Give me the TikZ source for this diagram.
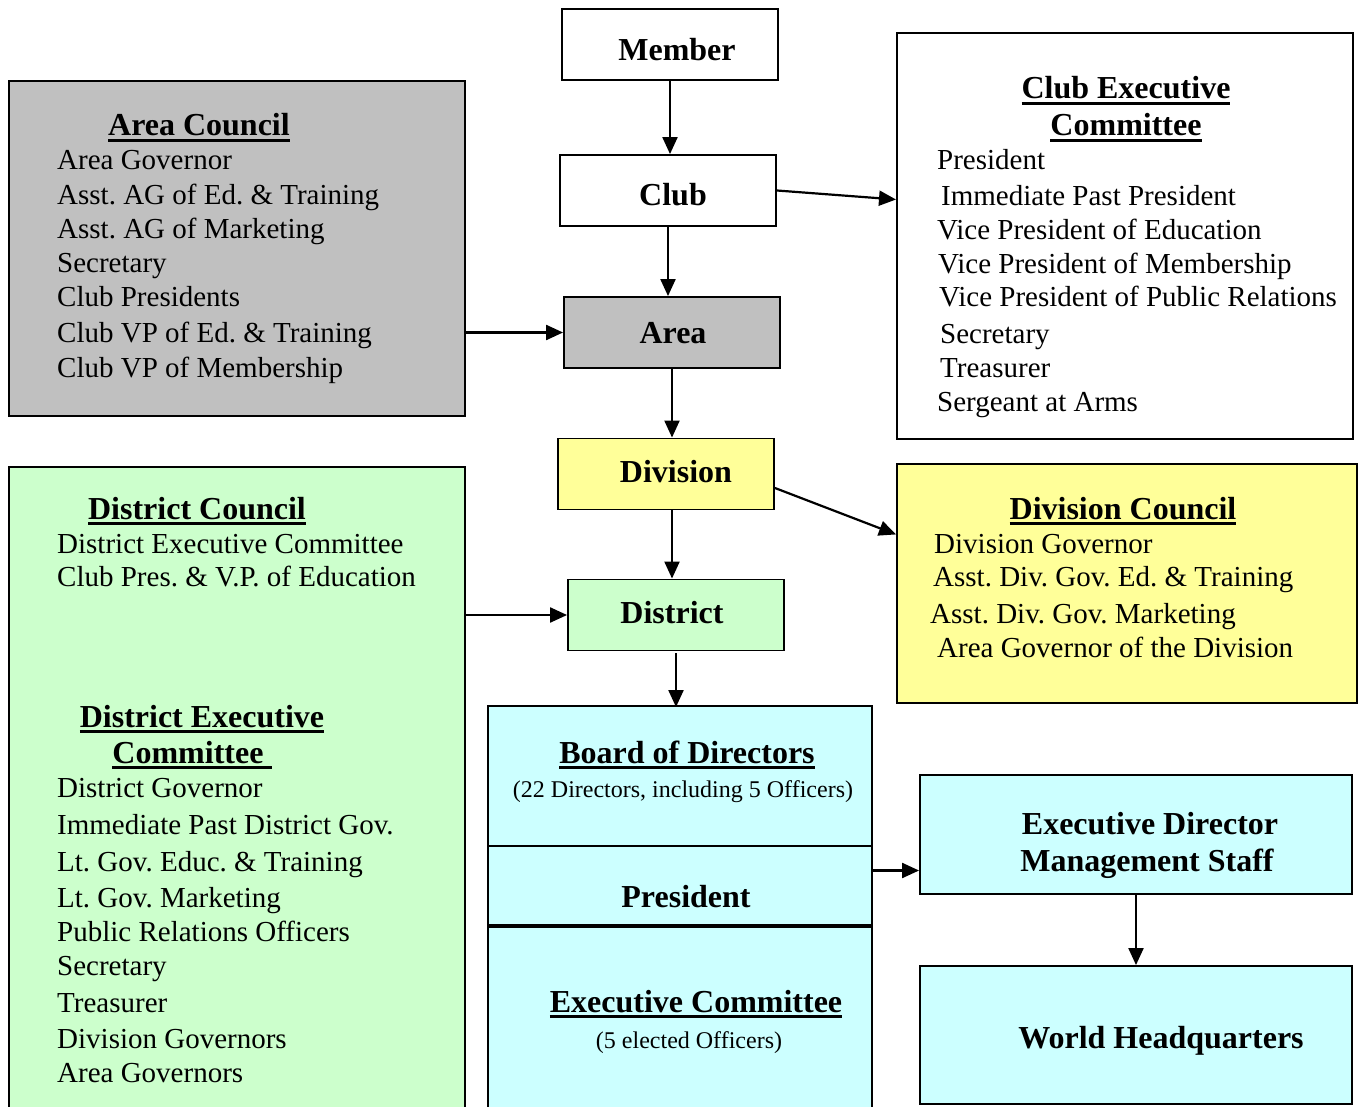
\documentclass[tikz,border=0pt]{standalone}
\usepackage{fontspec}
\setmainfont{Liberation Serif}
\frenchspacing
\usetikzlibrary{arrows.meta}
\newcommand\uln[1]{\setbox0\hbox{#1}\rlap{\vrule height -3pt depth 5.8pt width \wd0}\box0}
\definecolor{areagray}{HTML}{C0C0C0}
\definecolor{divyellow}{HTML}{FFFF99}
\definecolor{distgreen}{HTML}{CCFFCC}
\definecolor{boardcyan}{HTML}{CCFFFF}
\tikzset{
  lvl/.style={draw, line width=1.9pt, minimum width=216pt, minimum height=71pt, inner sep=0pt},
  panel/.style={draw, line width=1.9pt, anchor=north west, inner sep=0pt},
  head/.style={anchor=base, inner sep=0pt, font=\bfseries\fontsize{32}{37}\selectfont},
  note/.style={anchor=base, inner sep=0pt, font=\fontsize{24}{28}\selectfont},
  item/.style={anchor=base west, inner sep=0pt, font=\fontsize{29}{34}\selectfont},
  arr/.style={-{Triangle[length=17pt,width=15pt]}, line width=2.2pt},
}
\begin{document}
\begin{tikzpicture}[x=1pt,y=-1pt]
\clip (0,0) rectangle (1361,1107);

\node[panel, fill=areagray, minimum width=456pt, minimum height=335pt] (acl) at (8,80) {};
\node[panel, fill=white, minimum width=456pt, minimum height=406pt] (cex) at (896,32) {};
\node[panel, fill=distgreen, minimum width=456pt, minimum height=646pt] (dcl) at (8,466) {};
\node[panel, fill=divyellow, minimum width=460pt, minimum height=239pt] (dvc) at (896,463) {};

\node[lvl] (member) at (670,44.5) {};
\node[lvl] (club) at (668,190.5) {};
\node[lvl, fill=areagray] (area) at (672,332.5) {};
\node[lvl, fill=divyellow] (div) at (666,474) {};
\node[lvl, fill=distgreen] (dist) at (676,615) {};
\node[lvl, fill=boardcyan, minimum width=384pt, minimum height=140pt] (board) at (680,776) {};
\node[lvl, fill=boardcyan, minimum width=384pt, minimum height=79pt] (pres) at (680,885.5) {};
\node[lvl, fill=boardcyan, minimum width=384pt, minimum height=185pt] (excom) at (680,1019.5) {};
\node[lvl, fill=boardcyan, minimum width=432pt, minimum height=119pt] (exdir) at (1136,834.5) {};
\node[lvl, fill=boardcyan, minimum width=432pt, minimum height=138pt] (whq) at (1136,1035) {};

\node[head] (memberT) at (677,61) {Member};
\node[head] (clubT) at (673,206) {Club};
\node[head] (areaT) at (673,344) {Area};
\node[head] (divT) at (676,482) {Division};
\node[head] (distT) at (672,623) {District};
\node[head] (boardT) at (687,763) {\uln{Board of Directors}};
\node[note] (boardN) at (683,797) {(22 Directors, including 5 Officers)};
\node[head] (presT) at (686,907) {President};
\node[head] (excomT) at (696,1012) {\uln{Executive Committee}};
\node[note] (excomN) at (689,1048) {(5 elected Officers)};
\node[head] (exdirT1) at (1150,834) {Executive Director};
\node[head] (exdirT2) at (1147,871) {Management Staff};
\node[head] (whqT) at (1161,1048) {World Headquarters};

\node[head] (acT) at (199,136) {\uln{Area Council}};
\foreach \y/\t [count=\i] in {170/Area Governor, 205/Asst. AG of Ed. \& Training, 239/Asst. AG of Marketing,
    273/Secretary, 307/Club Presidents, 343/Club VP of Ed. \& Training, 378/Club VP of Membership}
  \node[item] (ac\i) at (57,\y) {\t};

\node[head] (cexT1) at (1126,99) {\uln{Club Executive}};
\node[head] (cexT2) at (1126,136) {\uln{Committee}};
\foreach \x/\y/\t [count=\i] in {937/170/President, 941/206/Immediate Past President,
    937/240/Vice President of Education, 938/274/Vice President of Membership,
    939/307/Vice President of Public Relations, 940/344/Secretary, 940/378/Treasurer,
    937/412/Sergeant at Arms}
  \node[item] (cex\i) at (\x,\y) {\t};

\node[head] (dvcT) at (1123,519) {\uln{Division Council}};
\foreach \x/\y/\t [count=\i] in {934/553/Division Governor, 933/586/Asst. Div. Gov. Ed. \& Training,
    930/623/Asst. Div. Gov. Marketing, 937/657/Area Governor of the Division}
  \node[item] (dvc\i) at (\x,\y) {\t};

\node[head] (dclT) at (197,519) {\uln{District Council}};
\node[item] (dcl1) at (57,553) {District Executive Committee};
\node[item] (dcl2) at (57,586) {Club Pres. \& V.P. of Education};

\node[head] (decT1) at (202,727) {\uln{District Executive}};
\node[head] (decT2) at (192,763) {\uln{Committee~}};
\foreach \y/\t [count=\i] in {797/District Governor, 834/Immediate Past District Gov.,
    871/Lt. Gov. Educ. \& Training, 907/Lt. Gov. Marketing, 941/Public Relations Officers,
    975/Secretary, 1012/Treasurer, 1048/Division Governors, 1082/Area Governors}
  \node[item] (dec\i) at (57,\y) {\t};

\draw[arr] (member.south) -- (member.south |- club.north);
\draw[arr] (club.south) -- (club.south |- area.north);
\draw[arr] (area.south) -- (area.south |- div.north);
\draw[arr] ([xshift=6pt]div.south) -- ([xshift=6pt]div.south |- dist.north);
\draw[arr] ([yshift=-2pt]dist.south) -- ([yshift=-2pt]dist.south |- board.north);
\draw[arr] (club.east) -- ([yshift=-9pt]cex.west |- club.east);
\draw[arr] ([yshift=-14pt]div.east) -- ([yshift=49pt]dvc.west);
\draw[arr] (area.west -| acl.east) -- (area.west);
\draw[arr] (dist.west -| dcl.east) -- (dist.west);
\draw[arr] ([yshift=15pt]pres.east) -- ([yshift=15pt]pres.east -| exdir.west);
\draw[arr] (exdir.south) -- (whq.north);
\end{tikzpicture}
\end{document}
